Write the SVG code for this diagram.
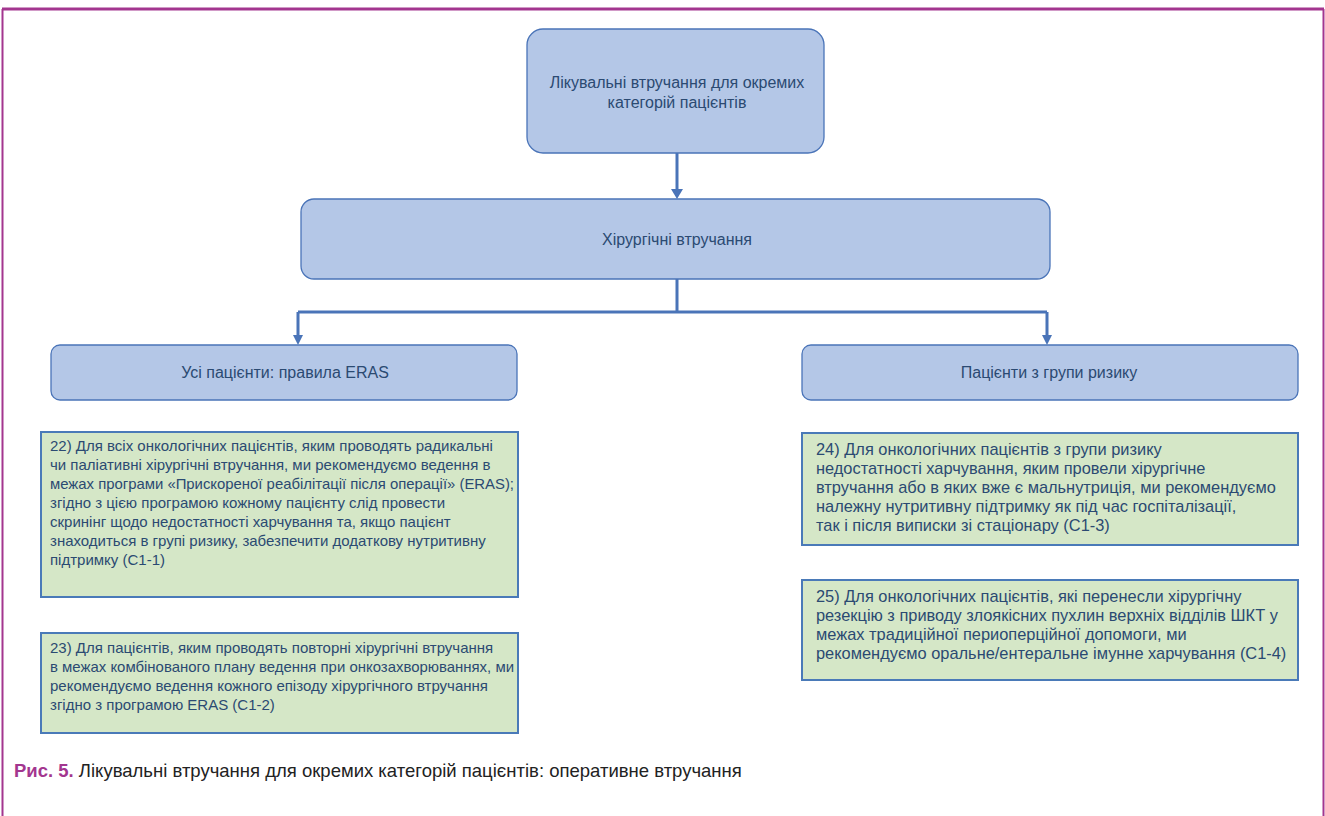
<svg xmlns="http://www.w3.org/2000/svg" width="1325" height="816" viewBox="0 0 1325 816">
<style>
.frame{fill:none;stroke:#a3368f;}
.bn{fill:#b4c7e7;stroke:#4a74b8;stroke-width:1.3;}
.gn{fill:#d5e7c7;stroke:#4a7ab8;stroke-width:2;}
.t{font-family:"Liberation Sans",Arial,sans-serif;font-size:16px;fill:#2b4a72;}
.tc{text-anchor:middle;}
.gl{font-family:"Liberation Sans",Arial,sans-serif;font-size:15px;fill:#2b4a72;}
.gr{font-family:"Liberation Sans",Arial,sans-serif;font-size:16.4px;fill:#2b4a72;}
.con{fill:none;stroke:#4a74b8;stroke-width:3;}
.cap{font-family:"Liberation Sans",Arial,sans-serif;font-size:18.5px;fill:#222;}
</style>
<rect width="1325" height="816" fill="#fff"/>
<line class="frame" x1="2" y1="9" x2="1324" y2="9" stroke-width="3"/>
<line class="frame" x1="2.5" y1="9" x2="2.5" y2="816" stroke-width="2"/>
<line class="frame" x1="1323.5" y1="9" x2="1323.5" y2="816" stroke-width="2"/>

<g id="connectors">
<line class="con" x1="677" y1="153" x2="677" y2="189"/>
<path d="M671,189 L683,189 L677,199 Z" fill="#4a74b8"/>
<path class="con" d="M677,279 V312 M298,312 H1047 M298,312 V336 M1047,312 V336"/>
<path d="M293,335 L303,335 L298,345 Z" fill="#4a74b8"/>
<path d="M1042,335 L1052,335 L1047,345 Z" fill="#4a74b8"/>
</g>

<g id="n-top">
<rect class="bn" x="527" y="29" width="297" height="124" rx="16"/>
<text class="t tc" x="677" y="88">Лікувальні втручання для окремих</text>
<text class="t tc" x="677" y="108">категорій пацієнтів</text>
</g>

<g id="n-surg">
<rect class="bn" x="301" y="199" width="749" height="80" rx="13"/>
<text class="t tc" x="677" y="245">Хірургічні втручання</text>
</g>

<g id="n-all">
<rect class="bn" x="51" y="345" width="466" height="55" rx="9"/>
<text class="t tc" x="285" y="378">Усі пацієнти: правила ERAS</text>
</g>

<g id="n-risk">
<rect class="bn" x="802" y="345" width="496" height="55" rx="9"/>
<text class="t tc" x="1049" y="378">Пацієнти з групи ризику</text>
</g>

<g id="n-22">
<rect class="gn" x="41" y="432" width="477" height="165"/>
<text class="gl">
<tspan x="50" y="451">22) Для всіх онкологічних пацієнтів, яким проводять радикальні</tspan>
<tspan x="50" y="470">чи паліативні хірургічні втручання, ми рекомендуємо ведення в</tspan>
<tspan x="50" y="489" textLength="464" lengthAdjust="spacingAndGlyphs">межах програми «Прискореної реабілітації після операції» (ERAS);</tspan>
<tspan x="50" y="508">згідно з цією програмою кожному пацієнту слід провести</tspan>
<tspan x="50" y="527">скринінг щодо недостатності харчування та, якщо пацієнт</tspan>
<tspan x="50" y="546">знаходиться в групі ризику, забезпечити додаткову нутритивну</tspan>
<tspan x="50" y="565">підтримку (С1-1)</tspan>
</text>
</g>

<g id="n-23">
<rect class="gn" x="41" y="633" width="477" height="100"/>
<text class="gl">
<tspan x="50" y="653">23) Для пацієнтів, яким проводять повторні хірургічні втручання</tspan>
<tspan x="50" y="672" textLength="464" lengthAdjust="spacingAndGlyphs">в межах комбінованого плану ведення при онкозахворюваннях, ми</tspan>
<tspan x="50" y="691">рекомендуємо ведення кожного епізоду хірургічного втручання</tspan>
<tspan x="50" y="710">згідно з програмою ERAS (С1-2)</tspan>
</text>
</g>

<g id="n-24">
<rect class="gn" x="802" y="433" width="496" height="112"/>
<text class="gr">
<tspan x="816" y="455">24) Для онкологічних пацієнтів з групи ризику</tspan>
<tspan x="816" y="474">недостатності харчування, яким провели хірургічне</tspan>
<tspan x="816" y="493">втручання або в яких вже є мальнутриція, ми рекомендуємо</tspan>
<tspan x="816" y="512">належну нутритивну підтримку як під час госпіталізації,</tspan>
<tspan x="816" y="531">так і після виписки зі стаціонару (С1-3)</tspan>
</text>
</g>

<g id="n-25">
<rect class="gn" x="802" y="580" width="496" height="100"/>
<text class="gr">
<tspan x="816" y="602">25) Для онкологічних пацієнтів, які перенесли хірургічну</tspan>
<tspan x="816" y="621">резекцію з приводу злоякісних пухлин верхніх відділів ШКТ у</tspan>
<tspan x="816" y="640">межах традиційної периоперційної допомоги, ми</tspan>
<tspan x="816" y="659">рекомендуємо оральне/ентеральне імунне харчування (С1-4)</tspan>
</text>
</g>

<g id="caption">
<text class="cap" x="14" y="777"><tspan font-weight="bold" fill="#a3368f">Рис. 5.</tspan> Лікувальні втручання для окремих категорій пацієнтів: оперативне втручання</text>
</g>
</svg>
